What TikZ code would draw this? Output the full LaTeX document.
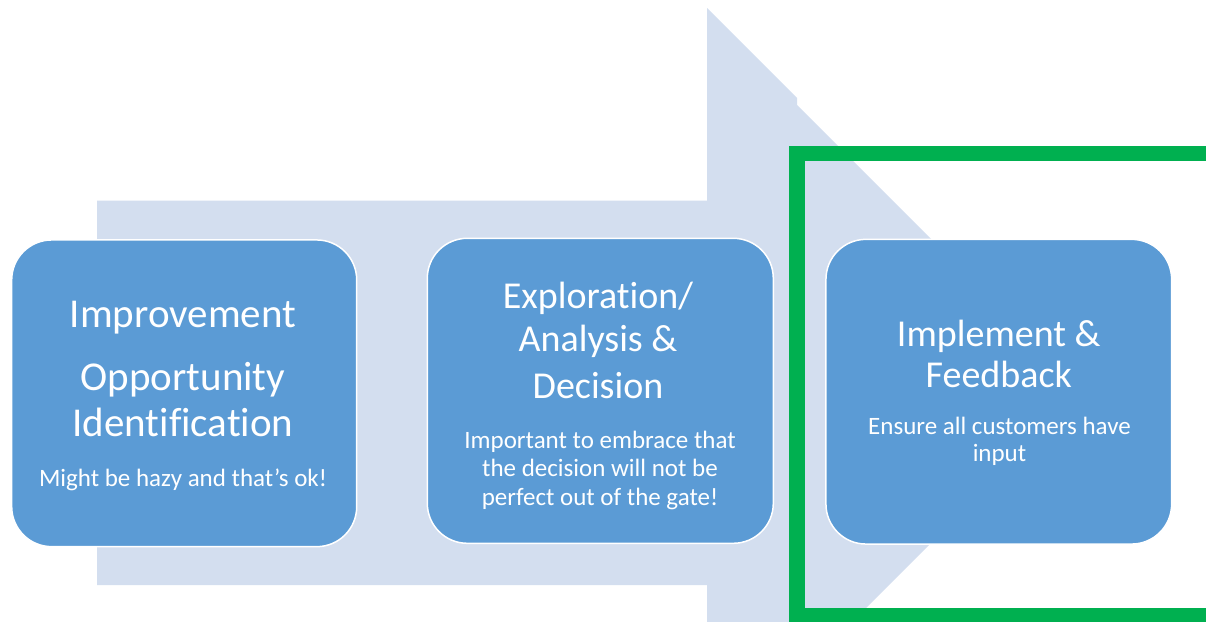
\documentclass[tikz,border=0pt]{standalone}
\usepackage{fontspec}
\setmainfont{Carlito}[Ligatures={NoCommon}]
\definecolor{arrowfill}{HTML}{D3DEEF}
\definecolor{boxfill}{HTML}{5B9BD5}
\definecolor{framegreen}{HTML}{00B050}
\begin{document}
\begin{tikzpicture}[x=1pt,y=-1pt,
  box/.style={draw=white, line width=1.5pt, fill=boxfill, rounded corners=40pt, inner sep=0pt},
  big/.style={text=white, anchor=base, inner sep=0pt, font=\fontsize{38}{45}\selectfont},
  bigger/.style={text=white, anchor=base, inner sep=0pt, font=\fontsize{41}{47}\selectfont},
  small/.style={text=white, anchor=base, inner sep=0pt, font=\fontsize{25}{28}\selectfont}]
\useasboundingbox (0,0) rectangle (1206,621);
\clip (0,0) rectangle (1206,621);
% big arrow
\fill[arrowfill] (97,200.5) -- (707,200.5) -- (707,8) -- (797,98) -- (797,105) -- (1083,391)
  -- (707,767) -- (707,585) -- (97,585) -- cycle;
% green frame
\draw[framegreen, line width=15.5pt] (797,153.5) rectangle (1240,615.5);
% boxes
\node[box, minimum width=345pt, minimum height=306.7pt] (b1) at (184.2,393.3) {};
\node[box, minimum width=346pt, minimum height=305pt] (b2) at (600.3,390.8) {};
\node[box, minimum width=345.7pt, minimum height=304.7pt] (b3) at (998.8,391.7) {};
% box 1 text
\node[bigger] (t1a) at (183,327.7) {Improvement};
\node[bigger] (t1b) at (183,390) {Opportunity};
\node[bigger] (t1c) at (183,436.7) {Identification};
\node[small] (s1a) at (183,486.7) {Might be hazy and that’s ok!};
% box 2 text
\node[big] (t2a) at (598,308) {Exploration/};
\node[big] (t2b) at (598,351.7) {Analysis \&};
\node[big] (t2c) at (598,398) {Decision};
\node[small] (s2a) at (600,448.3) {Important to embrace that};
\node[small] (s2b) at (600,476) {the decision will not be};
\node[small] (s2c) at (600,505) {perfect out of the gate!};
% box 3 text
\node[big] (t3a) at (998.8,346.7) {Implement \&};
\node[big] (t3b) at (998.8,387.7) {Feedback};
\node[small] (s3a) at (999.5,434) {Ensure all customers have};
\node[small] (s3b) at (999.5,461.7) {input};
\end{tikzpicture}
\end{document}
